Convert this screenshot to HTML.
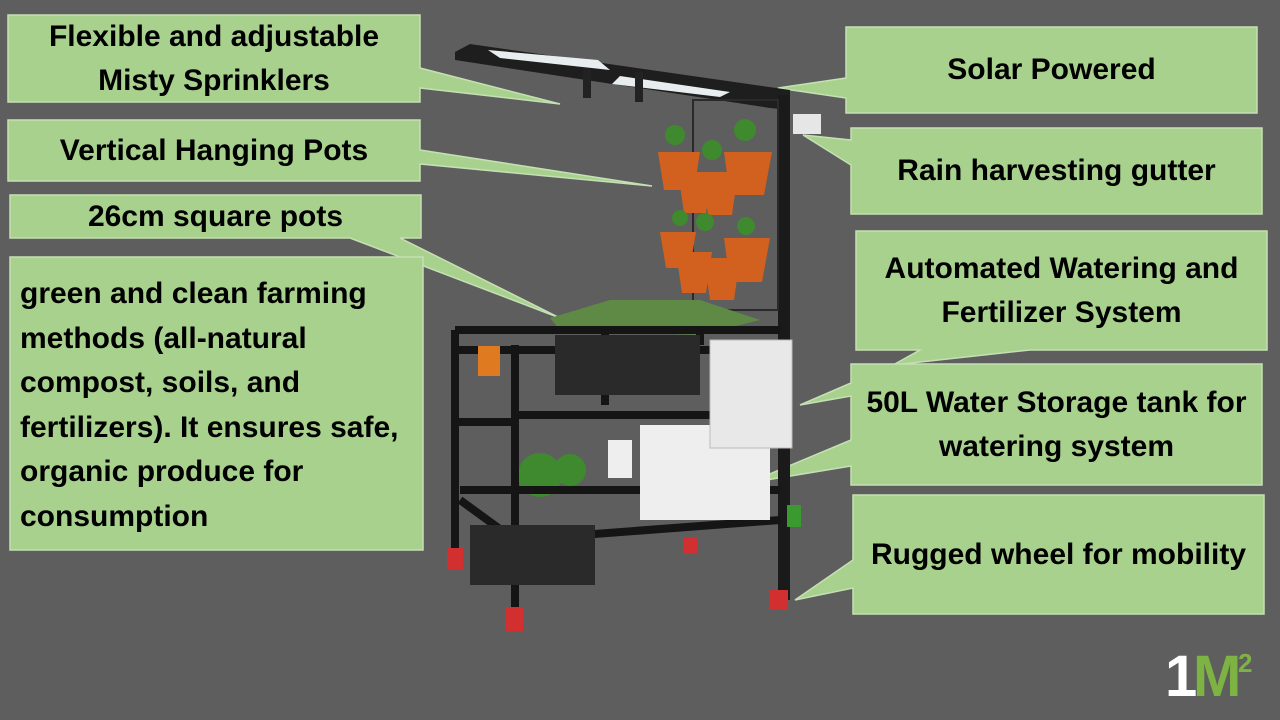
<!DOCTYPE html>
<html><head><meta charset="utf-8"><style>
html,body{margin:0;padding:0;background:#5e5e5e;}
#c{position:relative;width:1280px;height:720px;overflow:hidden;background:#5e5e5e;font-family:"Liberation Sans",sans-serif;font-weight:bold;color:#000;}
.t{position:absolute;display:flex;align-items:center;justify-content:center;text-align:center;font-size:30px;line-height:44px;}
svg{position:absolute;left:0;top:0;}
</style></head><body><div id="c">
<svg width="1280" height="720" viewBox="0 0 1280 720">
<g fill="#a9d18e" stroke="#c5e0b4" stroke-width="1.5">
<polygon points="8,15 420,15 420,68 560,104 420,88 420,102 8,102"/>
<polygon points="8,120 420,120 420,150 652,186 420,164 420,181 8,181"/>
<polygon points="10,195 421,195 421,238 400,238 560,318 350,238 10,238"/>
<rect x="10" y="257" width="413" height="293"/>
<polygon points="846,27 1257,27 1257,113 846,113 846,98 778,88 846,78"/>
<polygon points="851,128 1262,128 1262,214 851,214 851,165 803,135 851,140"/>
<polygon points="856,231 1267,231 1267,350 1030,350 893,365 920,350 856,350"/>
<polygon points="851,364 1262,364 1262,485 851,485 851,466 748,483 851,440 851,396 800,405 851,383"/>
<polygon points="853,495 1264,495 1264,614 853,614 853,588 795,600 853,560"/>
</g>
<g>
<polygon points="455,52 470,44 790,90 790,110 770,108 455,60" fill="#1e1e1e"/>
<polygon points="488,50 598,60 610,70 500,58" fill="#e8eef0"/>
<polygon points="620,76 730,92 720,97 612,84" fill="#e8eef0"/>
<rect x="583" y="68" width="8" height="30" fill="#222"/>
<rect x="635" y="72" width="8" height="30" fill="#222"/>
<rect x="778" y="95" width="12" height="505" fill="#1a1a1a"/>
<rect x="793" y="114" width="28" height="20" fill="#e6e6e6"/>
<rect x="693" y="100" width="85" height="210" fill="none" stroke="#2a2a2a" stroke-width="2"/>
<g fill="#d2601f">
<polygon points="658,152 700,152 694,190 664,190"/><polygon points="724,152 772,152 764,195 730,195"/>
<polygon points="678,172 712,172 706,213 684,213"/><polygon points="702,172 738,172 732,215 708,215"/>
<polygon points="660,232 696,232 690,268 666,268"/><polygon points="724,238 770,238 762,282 730,282"/>
<polygon points="676,252 712,252 706,293 682,293"/><polygon points="704,258 740,258 734,300 710,300"/>
</g>
<g fill="#3f8a2e"><circle cx="675" cy="135" r="10"/><circle cx="745" cy="130" r="11"/><circle cx="712" cy="150" r="10"/><circle cx="705" cy="222" r="9"/><circle cx="680" cy="218" r="8"/><circle cx="746" cy="226" r="9"/><circle cx="540" cy="475" r="22"/><circle cx="570" cy="470" r="16"/></g>
<polygon points="550,318 610,300 700,300 760,320 700,335 560,330" fill="#5f8a45"/>
<g stroke="#151515" stroke-width="8" fill="none">
<polyline points="455,330 455,560"/><polyline points="515,345 515,615"/><polyline points="455,330 780,330"/>
<polyline points="455,350 780,350"/><polyline points="515,415 780,415"/><polyline points="458,422 515,422"/>
<polyline points="460,490 780,490"/><polyline points="460,500 515,540 780,520"/>
<polyline points="605,332 605,405"/><polyline points="700,330 700,345"/>
</g>
<rect x="555" y="335" width="145" height="60" fill="#2a2a2a"/>
<rect x="470" y="525" width="125" height="60" fill="#2a2a2a"/>
<rect x="640" y="425" width="130" height="95" fill="#eeeeee"/>
<rect x="608" y="440" width="24" height="38" fill="#eeeeee"/>
<rect x="710" y="340" width="82" height="108" fill="#e8e8e8" stroke="#bbb"/>
<rect x="478" y="346" width="22" height="30" fill="#e07a20"/>
<g fill="#d23030"><rect x="447" y="548" width="16" height="22"/><rect x="505" y="607" width="18" height="24"/><rect x="683" y="538" width="14" height="16"/><rect x="770" y="590" width="18" height="20"/></g>
<rect x="787" y="505" width="14" height="22" fill="#3a9a30"/>
</g>
<text x="1165" y="696" font-family="Liberation Sans,sans-serif" font-weight="bold" font-size="58" fill="#ffffff">1</text>
<text x="1193" y="696" font-family="Liberation Sans,sans-serif" font-weight="bold" font-size="58" fill="#7cb342">M</text>
<text x="1238" y="672" font-family="Liberation Sans,sans-serif" font-weight="bold" font-size="26" fill="#7cb342">2</text>
</svg>
<div class="t" style="left:8px;top:15px;width:412px;height:87px;">Flexible and adjustable<br>Misty Sprinklers</div>
<div class="t" style="left:8px;top:120px;width:412px;height:61px;">Vertical Hanging Pots</div>
<div class="t" style="left:10px;top:195px;width:411px;height:43px;">26cm square pots</div>
<div class="t" style="left:20px;top:272px;width:400px;height:265px;justify-content:flex-start;text-align:left;align-items:flex-start;line-height:44.5px;">green and clean farming methods (all-natural compost, soils, and fertilizers). It ensures safe, organic produce for consumption</div>
<div class="t" style="left:846px;top:27px;width:411px;height:86px;">Solar Powered</div>
<div class="t" style="left:851px;top:128px;width:411px;height:86px;">Rain harvesting gutter</div>
<div class="t" style="left:856px;top:246px;width:411px;height:90px;">Automated Watering and<br>Fertilizer System</div>
<div class="t" style="left:851px;top:380px;width:411px;height:90px;">50L Water Storage tank for<br>watering system</div>
<div class="t" style="left:853px;top:495px;width:411px;height:119px;">Rugged wheel for mobility</div>
</div></body></html>
